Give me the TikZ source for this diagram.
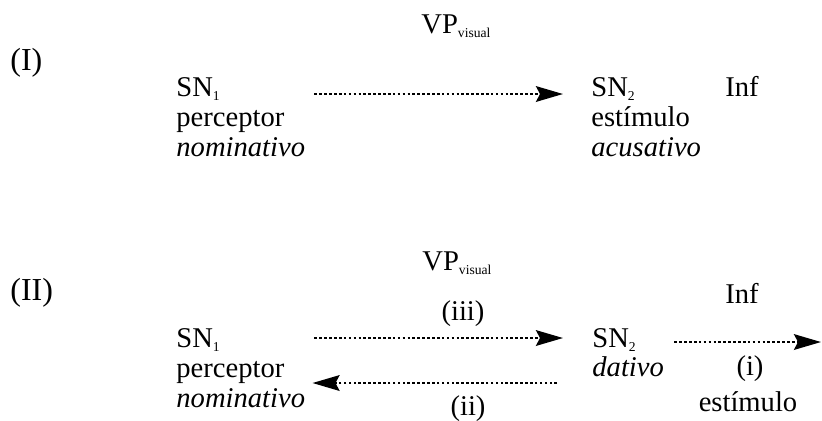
\documentclass[tikz,border=0pt]{standalone}
\usepackage{fontspec}
\setmainfont{Liberation Serif}
\usetikzlibrary{arrows.meta}

\newcommand{\lowsub}[1]{\raisebox{-2pt}{\fontsize{6.8}{7}\selectfont #1}}

\tikzset{
  txt/.style={inner sep=0pt, anchor=base west, font=\fontsize{14.3}{15}\selectfont},
  lbl/.style={inner sep=0pt, anchor=base, font=\fontsize{14.3}{15}\selectfont},
  num/.style={inner sep=0pt, anchor=base west, font=\fontsize{16}{17}\selectfont},
  dotarr/.style={line width=1.3pt, dash pattern=on 1.3pt off 1.15pt,
    -{Stealth[length=13.5pt, width=7.8pt, inset=2pt]}}
}

\begin{document}
\begin{tikzpicture}[x=0.5pt,y=-0.5pt]
\useasboundingbox (0,0) rectangle (822,420);
% (I)
\node[num] (c1) at (10,70) {(I)};
\node[txt] (vp1) at (421,33) {VP\lowsub{visual}};
\node[txt] (sn1a) at (176,96) {SN\lowsub{1}};
\node[txt] (per1) at (176,126) {perceptor};
\node[txt] (nom1) at (176,156) {\itshape nominativo};
\node[txt] (sn2a) at (591,96) {SN\lowsub{2}};
\node[txt] (est1) at (591,126) {estímulo};
\node[txt] (acu1) at (591,156) {\itshape acusativo};
\node[txt] (inf1) at (725,96) {Inf};
\draw[dotarr] ([shift={(9,-2)}]nom1.east |- sn1a.base) -- ([shift={(-28,-2)}]sn2a.base west);
% (II)
\node[num] (c2) at (10,300) {(II)};
\node[txt] (vp2) at (422,270) {VP\lowsub{visual}};
\node[txt] (sn1b) at (176,347) {SN\lowsub{1}};
\node[txt] (per2) at (176,377) {perceptor};
\node[txt] (nom2) at (176,407) {\itshape nominativo};
\node[txt] (sn2b) at (592,347) {SN\lowsub{2}};
\node[txt] (dat2) at (592,376) {\itshape dativo};
\node[txt] (inf2) at (725,303) {Inf};
\node[lbl] (l3) at (463,320) {(iii)};
\node[lbl] (l2) at (468,415) {(ii)};
\node[lbl] (l1) at (750,375) {(i)};
\node[lbl] (est2) at (748,411) {estímulo};
\coordinate (iend) at (821,342);
\draw[dotarr] ([shift={(9,-9)}]nom2.east |- sn1b.base) -- ([shift={(-29,-9)}]sn2b.base west);
\draw[dotarr] ([shift={(-35,6)}]sn2b.base west |- per2.base) -- ([shift={(7,6)}]nom2.east |- per2.base);
\draw[dotarr] ([shift={(10,-5)}]dat2.east |- sn2b.base) -- (iend);
\end{tikzpicture}
\end{document}
